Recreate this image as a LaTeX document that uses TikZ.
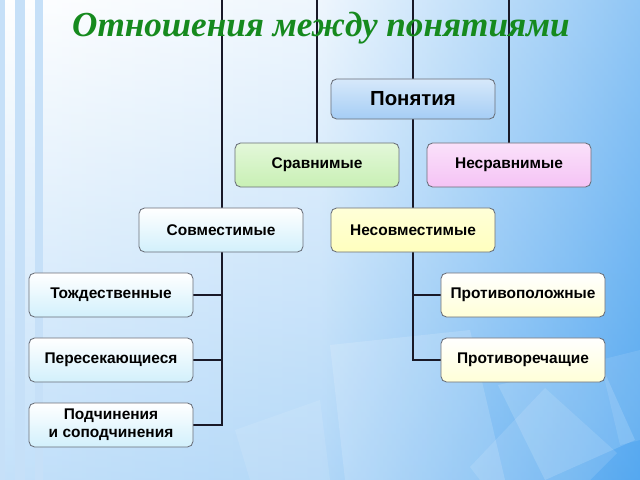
\documentclass[tikz,border=0pt]{standalone}
\usepackage{fontspec}
\setmainfont{Liberation Serif}
\setsansfont{Liberation Sans}
\usepackage{tikz}
\definecolor{titlegreen}{RGB}{22,138,30}
\definecolor{linedark}{RGB}{25,25,40}
\definecolor{boxborder}{RGB}{105,110,120}
\definecolor{bgblue}{RGB}{85,168,240}
\definecolor{stripeblue}{RGB}{198,224,248}
\definecolor{rootblue}{RGB}{165,205,245}
\definecolor{greenfill}{RGB}{200,240,180}
\definecolor{pinkfill}{RGB}{245,195,245}
\definecolor{cyanfill}{RGB}{210,240,252}
\definecolor{yellowfill}{RGB}{255,255,190}
\definecolor{paleyellow}{RGB}{255,255,215}
\pgfdeclarelayer{bg}
\pgfdeclarelayer{lines}
\pgfsetlayers{bg,lines,main}

\begin{document}
\begin{tikzpicture}[x=0.025cm, y=-0.025cm,
    box/.style={draw=boxborder, line width=0.6pt, rounded corners=4pt,
        minimum width=4.1cm, minimum height=1.1cm, align=center,
        font=\sffamily\bfseries\fontsize{11}{13}\selectfont},
    link/.style={draw=linedark, line width=1.3pt}]
    \useasboundingbox (0,0) rectangle (640,480);

    % Background
    \begin{pgfonlayer}{bg}
        \shade[left color=white, right color=bgblue, middle color=white!85!bgblue] (0,0) rectangle (640,480);
        \shade[top color=white, bottom color=bgblue, fill opacity=0.35] (0,0) rectangle (640,480);
        \foreach \xa/\xb in {0/5, 15/25, 35/43} {
            \fill[stripeblue] (\xa,0) rectangle (\xb,480);
        }
        % Glass tiles
        \fill[white, fill opacity=0.15] (330,345) -- (470,330) -- (505,480) -- (345,480) -- cycle;
        \fill[white, fill opacity=0.15] (498,385) -- (600,362) -- (635,440) -- (545,480) -- cycle;
        \fill[white, fill opacity=0.12] (470,467) -- (545,388) -- (617,453) -- (590,480) -- (480,480) -- cycle;
        \fill[white, fill opacity=0.10] (600,360) -- (640,350) -- (640,440) -- (620,445) -- cycle;
        \fill[white, fill opacity=0.10] (235,430) -- (320,400) -- (330,480) -- (250,480) -- cycle;
    \end{pgfonlayer}

    % Title
    \node[text=titlegreen, font=\rmfamily\bfseries\itshape\fontsize{25}{28}\selectfont] (title) at (321,28) {Отношения между понятиями};

    % Boxes
    \node[box, minimum height=1.0cm, top color=white!55!rootblue, bottom color=rootblue, font=\sffamily\bfseries\fontsize{14.5}{16}\selectfont] (root) at (413,99) {Понятия};
    \node[box, top color=white!50!greenfill, bottom color=greenfill] (srav) at (317,165) {Сравнимые};
    \node[box, top color=white!50!pinkfill, bottom color=pinkfill] (nesrav) at (509,165) {Несравнимые};
    \node[box, top color=white, bottom color=cyanfill] (sovm) at (221,230) {Совместимые};
    \node[box, top color=white!40!yellowfill, bottom color=yellowfill] (nesovm) at (413,230) {Несовместимые};
    \node[box, top color=white, bottom color=cyanfill] (tozh) at (111,295) {Тождественные};
    \node[box, top color=white, bottom color=cyanfill] (peres) at (111,360) {Пересекающиеся};
    \node[box, top color=white, bottom color=cyanfill] (podch) at (111,425) {Подчинения\\и соподчинения};
    \node[box, top color=white, bottom color=paleyellow] (protivop) at (523,295) {Противоположные};
    \node[box, top color=white, bottom color=paleyellow] (protivor) at (523,360) {Противоречащие};

    % Connectors
    \coordinate (topA) at (222,0);
    \coordinate (topB) at (317,0);
    \coordinate (topC) at (413,0);
    \coordinate (topD) at (509,0);
    \begin{pgfonlayer}{lines}
        \draw[link] (topA) |- (podch.east);
        \foreach \n in {tozh, peres} {
            \draw[link] (\n.east) -- (\n.east -| topA);
        }
        \draw[link] (topC) |- (protivor.west);
        \draw[link] (protivop.west) -- (protivop.west -| topC);
        \draw[link] (topB) -- (srav.north);
        \draw[link] (topD) -- (nesrav.north);
    \end{pgfonlayer}
\end{tikzpicture}
\end{document}
